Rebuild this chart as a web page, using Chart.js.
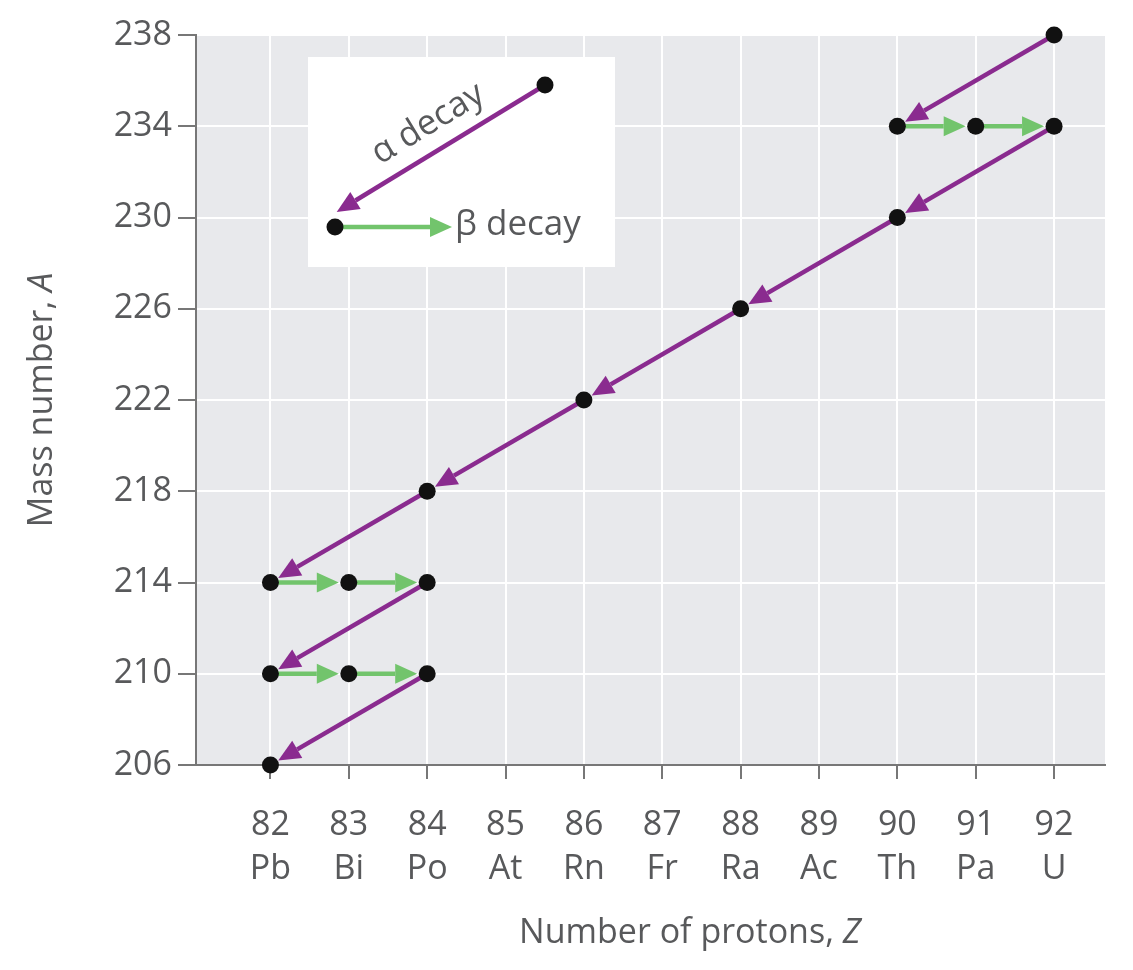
<!DOCTYPE html>
<html>
<head>
<meta charset="utf-8">
<script src="https://cdn.jsdelivr.net/npm/chart.js@4"></script>
<style>
  html, body { margin: 0; padding: 0; background: #fff; }
  #wrap { width: 1133px; height: 970px; }
</style>
</head>
<body>
<div id="wrap"><canvas id="decayChart" width="1133" height="970"></canvas></div>
<script>
const zValues = [82, 83, 84, 85, 86, 87, 88, 89, 90, 91, 92];
const elements = ['Pb', 'Bi', 'Po', 'At', 'Rn', 'Fr', 'Ra', 'Ac', 'Th', 'Pa', 'U'];
const massTicks = [206, 210, 214, 218, 222, 226, 230, 234, 238];

// U-238 decay chain: [Z, A, type of decay that produced it]
const chainZ = [92, 90, 91, 92, 90, 88, 86, 84, 82, 83, 84, 82, 83, 84, 82];
const chainA = [238, 234, 234, 234, 230, 226, 222, 218, 214, 214, 214, 210, 210, 210, 206];
const chainStep = [null, 'a', 'b', 'b', 'a', 'a', 'a', 'a', 'a', 'b', 'b', 'a', 'b', 'b', 'a'];

const PURPLE = '#8a2b8f';
const GREEN = '#72c46c';
const GREY = '#58595b';
const FONT = '"Open Sans", "Noto Sans", sans-serif';

function arrow(ctx, x1, y1, x2, y2, color, gap) {
    const ang = Math.atan2(y2 - y1, x2 - x1);
    const tx = x2 - Math.cos(ang) * gap, ty = y2 - Math.sin(ang) * gap;
    const len = 22, half = 10;
    const bx = tx - Math.cos(ang) * len, by = ty - Math.sin(ang) * len;
    ctx.strokeStyle = color;
    ctx.fillStyle = color;
    ctx.lineWidth = 4.5;
    ctx.beginPath();
    ctx.moveTo(x1, y1);
    ctx.lineTo(bx, by);
    ctx.stroke();
    ctx.beginPath();
    ctx.moveTo(tx, ty);
    ctx.lineTo(bx - Math.sin(ang) * half, by + Math.cos(ang) * half);
    ctx.lineTo(bx + Math.sin(ang) * half, by - Math.cos(ang) * half);
    ctx.closePath();
    ctx.fill();
}

function dot(ctx, x, y) {
    ctx.fillStyle = '#111';
    ctx.beginPath();
    ctx.arc(x, y, 8.5, 0, Math.PI * 2);
    ctx.fill();
}

const decayPlugin = {
    id: 'decay',
    beforeDraw(chart) {
        const { ctx, chartArea: a } = chart;
        ctx.save();
        ctx.fillStyle = '#e8e9ec';
        ctx.fillRect(a.left, a.top, a.right - a.left, a.bottom - a.top);
        ctx.restore();
    },
    afterDatasetsDraw(chart) {
        const { ctx, scales: { x, y } } = chart;
        ctx.save();
        for (let i = 1; i < chainZ.length; i++) {
            const x1 = x.getPixelForValue(chainZ[i - 1]), y1 = y.getPixelForValue(chainA[i - 1]);
            const x2 = x.getPixelForValue(chainZ[i]), y2 = y.getPixelForValue(chainA[i]);
            if (chainStep[i] === 'a') arrow(ctx, x1, y1, x2, y2, PURPLE, 9);
            else arrow(ctx, x1, y1, x2, y2, GREEN, 10);
        }
        for (let i = 0; i < chainZ.length; i++) {
            dot(ctx, x.getPixelForValue(chainZ[i]), y.getPixelForValue(chainA[i]));
        }

        // legend box
        ctx.fillStyle = '#fff';
        ctx.fillRect(308, 57, 307, 210);
        arrow(ctx, 545, 85, 335, 213, PURPLE, 2);
        dot(ctx, 545, 85);
        arrow(ctx, 335, 227, 452, 227, GREEN, 0);
        dot(ctx, 335, 227);
        ctx.fillStyle = GREY;
        ctx.font = '35px ' + FONT;
        ctx.textBaseline = 'middle';
        ctx.fillText('β decay', 455, 225);
        ctx.save();
        ctx.translate(428, 124);
        ctx.rotate(Math.atan2(85 - 213, 545 - 335));
        ctx.textAlign = 'center';
        ctx.fillText('α decay', 0, 0);
        ctx.restore();

        // axis titles with italic variable
        ctx.textBaseline = 'middle';
        const xt = 'Number of protons, ';
        ctx.font = '34px ' + FONT;
        const w1 = ctx.measureText(xt).width;
        ctx.font = 'italic 34px ' + FONT;
        const w2 = ctx.measureText('Z').width;
        const sx = 690 - (w1 + w2) / 2;
        ctx.font = '34px ' + FONT;
        ctx.fillText(xt, sx, 933);
        ctx.font = 'italic 34px ' + FONT;
        ctx.fillText('Z', sx + w1, 933);

        ctx.save();
        ctx.translate(42, 400);
        ctx.rotate(-Math.PI / 2);
        const yt = 'Mass number, ';
        ctx.font = '34px ' + FONT;
        const v1 = ctx.measureText(yt).width;
        ctx.font = 'italic 34px ' + FONT;
        const v2 = ctx.measureText('A').width;
        ctx.font = '34px ' + FONT;
        ctx.fillText(yt, -(v1 + v2) / 2, 0);
        ctx.font = 'italic 34px ' + FONT;
        ctx.fillText('A', -(v1 + v2) / 2 + v1, 0);
        ctx.restore();
        ctx.restore();
    }
};

new Chart(document.getElementById('decayChart').getContext('2d'), {
    type: 'scatter',
    data: { datasets: [{ data: chainZ.map((z, i) => ({ x: z, y: chainA[i] })), pointRadius: 0 }] },
    options: {
        responsive: false,
        animation: false,
        layout: { padding: { top: 35, right: 28, left: 0, bottom: 0 } },
        plugins: { legend: { display: false }, tooltip: { enabled: false } },
        scales: {
            x: {
                type: 'linear', min: 81.05, max: 92.65,
                afterBuildTicks: s => { s.ticks = zValues.map(v => ({ value: v })); },
                afterFit: s => { s.height = 205; },
                grid: { color: '#fff', lineWidth: 2, tickColor: '#777', tickLength: 14 },
                border: { color: '#777', width: 2 },
                ticks: {
                    color: GREY, font: { family: FONT, size: 34, lineHeight: 1.3 }, padding: 24,
                    callback: v => [String(v), elements[zValues.indexOf(v)]]
                }
            },
            y: {
                type: 'linear', min: 206, max: 238,
                afterBuildTicks: s => { s.ticks = massTicks.map(v => ({ value: v })); },
                afterFit: s => { s.width = 196; },
                grid: { color: '#fff', lineWidth: 2, tickColor: '#777', tickLength: 18 },
                border: { color: '#777', width: 2 },
                ticks: { color: GREY, font: { family: FONT, size: 34 }, padding: 6 }
            }
        }
    },
    plugins: [decayPlugin]
});
</script>
</body>
</html>
